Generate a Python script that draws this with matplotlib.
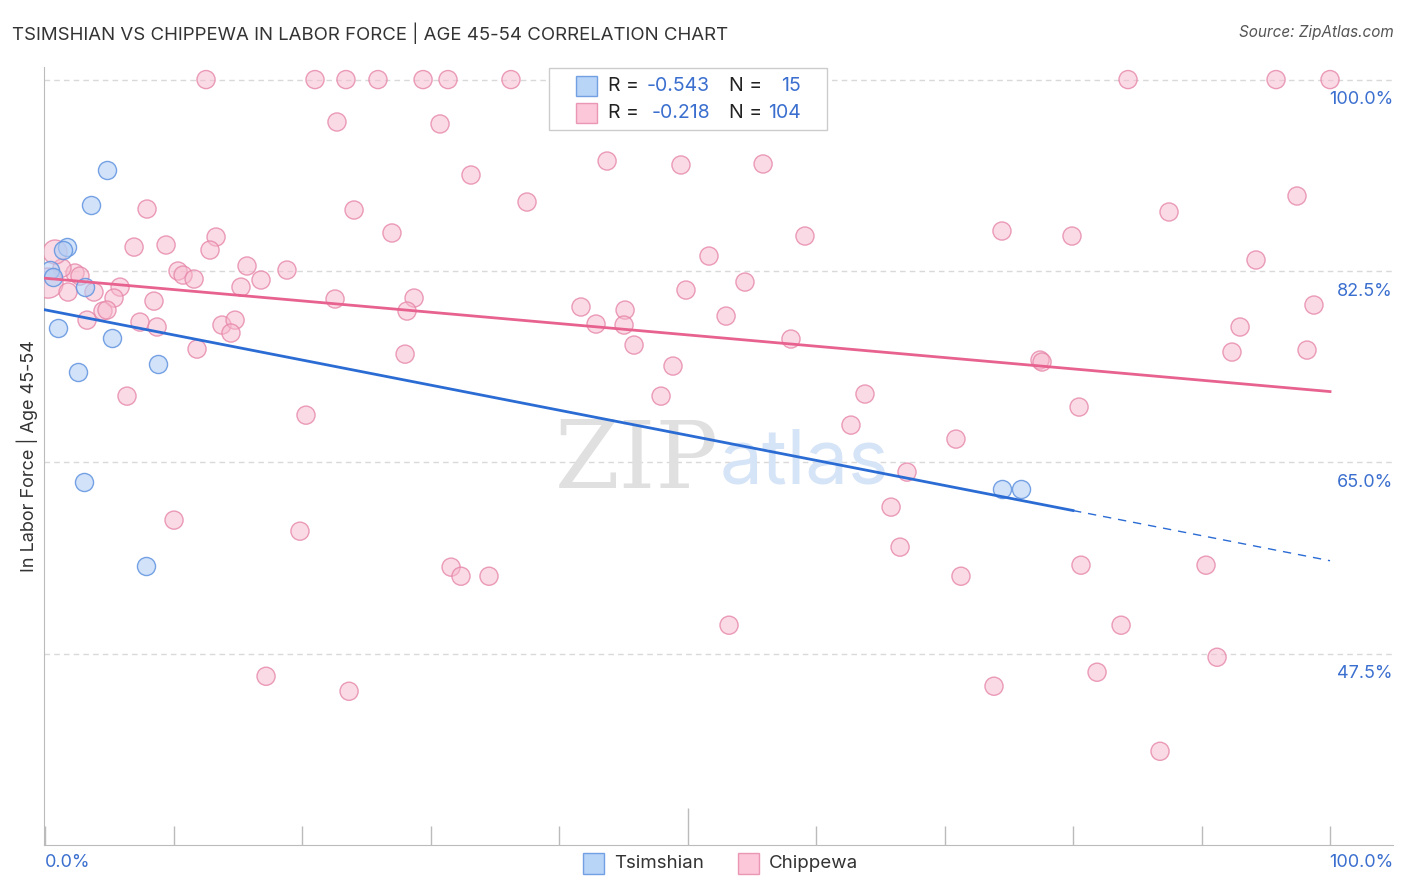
import numpy as np
import matplotlib.pyplot as plt
from matplotlib.patches import Rectangle

# Tsimshian (blue) points, x = share %, y = in labor force %
tsim_x = [4.82, 3.58, 1.71, 1.40, 0.39, 0.62, 3.11, 1.01, 5.21, 2.57, 8.79, 3.04, 7.86, 74.47, 75.95]
tsim_y = [91.73, 88.53, 84.68, 84.41, 82.58, 81.94, 81.02, 77.27, 76.36, 73.25, 73.98, 63.18, 55.50, 62.54, 62.54]

# Chippewa (pink) points
chip_x = [12.53, 21.01, 23.42, 25.91, 29.42, 31.36, 36.26, 46.38, 84.28, 95.80, 100.0,
          22.72, 30.74, 33.15, 43.74, 49.49, 55.88, 7.94, 24.05, 37.51, 97.43,
          87.47, 27.00, 74.47, 79.92, 59.14, 13.31, 12.84, 6.93, 9.42, 51.67,
          94.24, 15.72, 18.83, 10.35, 10.74, 16.81, 11.60, 15.25, 5.84, 49.88,
          54.47, 2.33, 2.72, 1.32, 0.78, 0.23, 1.79, 3.81, 5.37, 8.48,
          22.57, 28.72, 28.17, 41.71, 45.14, 98.75, 4.51, 4.82, 3.27, 7.39,
          8.72, 13.77, 14.79, 14.47, 53.00, 42.88, 45.06, 45.84, 93.00, 92.37,
          98.21, 58.05, 11.83, 28.02, 77.43, 77.59, 48.87, 6.38, 47.94, 63.81,
          20.31, 80.47, 62.72, 70.89, 67.08, 65.84, 10.04, 19.84, 66.54, 31.60,
          32.37, 34.55, 71.28, 80.62, 90.35, 53.23, 83.74, 91.21, 17.20, 23.66,
          73.85, 81.87, 86.77]
chip_y = [100.0, 100.0, 100.0, 100.0, 100.0, 100.0, 100.0, 100.0, 100.0, 100.0, 100.0,
          96.12, 95.94, 91.27, 92.55, 92.19, 92.28, 88.16, 88.07, 88.80, 89.35,
          87.89, 85.97, 86.15, 85.69, 85.69, 85.60, 84.41, 84.68, 84.87, 83.86,
          83.50, 82.95, 82.58, 82.49, 82.12, 81.67, 81.76, 81.02, 81.02, 80.75,
          81.48, 82.31, 82.03, 82.76, 84.23, 81.39, 80.57, 80.57, 80.02, 79.74,
          79.93, 80.02, 78.83, 79.20, 78.92, 79.38, 78.83, 78.92, 78.00, 77.82,
          77.37, 77.55, 78.00, 76.82, 78.37, 77.64, 77.55, 75.72, 77.37, 75.08,
          75.26, 76.27, 75.35, 74.89, 74.35, 74.17, 73.80, 71.05, 71.05, 71.24,
          69.31, 70.05, 68.40, 67.12, 64.10, 60.90, 59.71, 58.70, 57.24, 55.41,
          54.58, 54.58, 54.58, 55.59, 55.59, 50.10, 50.10, 47.17, 45.43, 44.06,
          44.52, 45.80, 38.57]
chip_s = [170] * len(chip_x)
chip_s[45] = 300
chip_s[46] = 470

yticks = [47.5, 65.0, 82.5, 100.0]
ytick_labels = ["47.5%", "65.0%", "82.5%", "100.0%"]

plt.rcParams['font.family'] = ['Inter', 'DejaVu Sans']

W, H = 1406, 892
fig = plt.figure(figsize=(W / 100, H / 100), dpi=100)
ax = fig.add_axes([44 / W, 1 - 845 / H, (1393 - 44) / W, (845 - 67) / H])
ax.set_xlim(-0.08, 104.9)
ax.set_ylim(30.0, 101.15)

def px(x, y):
    return x / W, 1 - y / H

blue_face = (0.70, 0.81, 0.96, 0.6)
blue_edge = (0.38, 0.58, 0.88, 0.85)
pink_face = (0.97, 0.72, 0.80, 0.5)
pink_edge = (0.90, 0.52, 0.66, 0.8)

ax.scatter(chip_x, chip_y, s=chip_s, facecolor=pink_face, edgecolor=pink_edge, linewidth=1, zorder=3)
ax.scatter(tsim_x, tsim_y, s=170, facecolor=blue_face, edgecolor=blue_edge, linewidth=1, zorder=4)

# trend lines
bk, bb = np.polyfit(tsim_x, tsim_y, 1)
pk, pb = np.polyfit(chip_x, chip_y, 1)
xs = np.array([0, 80])
ax.plot(xs, bk * xs + bb, color="#2b6cd4", lw=2, zorder=5)
xd = np.array([80, 100])
ax.plot(xd, bk * xd + bb, color="#2b6cd4", lw=1, ls=(0, (6, 5)), zorder=5)
xp = np.array([0, 100])
ax.plot(xp, pk * xp + pb, color="#e8628f", lw=2, zorder=5)

# grid
for v in yticks:
    ax.axhline(v, color="#d9d9d9", lw=1, ls=(0, (4, 3)), zorder=1)
for v, lab in zip(yticks, ytick_labels):
    ax.text(104.9, v - 1.85, lab, ha="right", va="center", fontsize=13, color="#3b6fcf")

# axes styling
for s in ["top", "right"]:
    ax.spines[s].set_visible(False)
ax.spines["left"].set_color("#bbbbbb")
ax.spines["bottom"].set_color("#bbbbbb")
ax.set_yticks([])
ax.set_xticks(np.arange(0, 101, 10))
ax.set_xticklabels([])
ax.tick_params(axis="x", direction="in", length=14, color="#bbbbbb", width=1)
ax.xaxis.get_major_ticks()[5].tick1line.set_markersize(27)

ax.text(0, 30.0 - 1.6, "0.0%", ha="left", va="center", fontsize=13, color="#3b6fcf", clip_on=False)
ax.text(104.9, 30.0 - 1.6, "100.0%", ha="right", va="center", fontsize=13, color="#3b6fcf", clip_on=False)

# watermark
ax.text(39.7, 65.0, "ZIP", ha="left", va="center", fontsize=67, family="DejaVu Serif", color="#e0e0e0", zorder=2)
ax.text(52.5, 64.8, "atlas", ha="left", va="center", fontsize=55, color="#d6e4f7", zorder=2)

fig.text(*px(12, 33), "TSIMSHIAN VS CHIPPEWA IN LABOR FORCE | AGE 45-54 CORRELATION CHART",
         ha="left", va="center", fontsize=13.4, color="#333333")
fig.text(*px(1394, 33), "Source: ZipAtlas.com", ha="right", va="center", fontsize=11, style="italic", color="#555555")
fig.text(*px(27, 456), "In Labor Force | Age 45-54", rotation=90, ha="center", va="center", fontsize=13, color="#333333")

# top legend
leg_blue = (0.72, 0.83, 0.97)
leg_pink = (0.99, 0.78, 0.85)
fig.patches.append(Rectangle(px(549, 130), 278 / W, 62 / H, transform=fig.transFigure,
                             facecolor="white", edgecolor="#cccccc", lw=1, zorder=10))
rows = [("-0.543", "15", leg_blue, blue_edge, 86), ("-0.218", "104", leg_pink, pink_edge, 113)]
for r, n, fc, ec, y in rows:
    fig.patches.append(Rectangle(px(576, y + 10), 21 / W, 20 / H, transform=fig.transFigure,
                                 facecolor=fc, edgecolor=ec, lw=1, zorder=11))
    fig.text(*px(608, y), "R = ", ha="left", va="center", fontsize=14, color="#222222", zorder=12)
    fig.text(*px(710, y), r, ha="right", va="center", fontsize=14, color="#3b6fcf", zorder=12)
    fig.text(*px(729, y), "N = ", ha="left", va="center", fontsize=14, color="#222222", zorder=12)
    fig.text(*px(801, y), n, ha="right", va="center", fontsize=14, color="#3b6fcf", zorder=12)

# bottom legend
for x0, name, fc, ec in [(583, "Tsimshian", leg_blue, blue_edge), (738, "Chippewa", leg_pink, pink_edge)]:
    fig.patches.append(Rectangle(px(x0, 874), 21 / W, 21 / H, transform=fig.transFigure,
                                 facecolor=fc, edgecolor=ec, lw=1))
    fig.text(*px(x0 + 31, 864), name, ha="left", va="center", fontsize=13.5, color="#333333")

fig.savefig("out.png", dpi=100)
